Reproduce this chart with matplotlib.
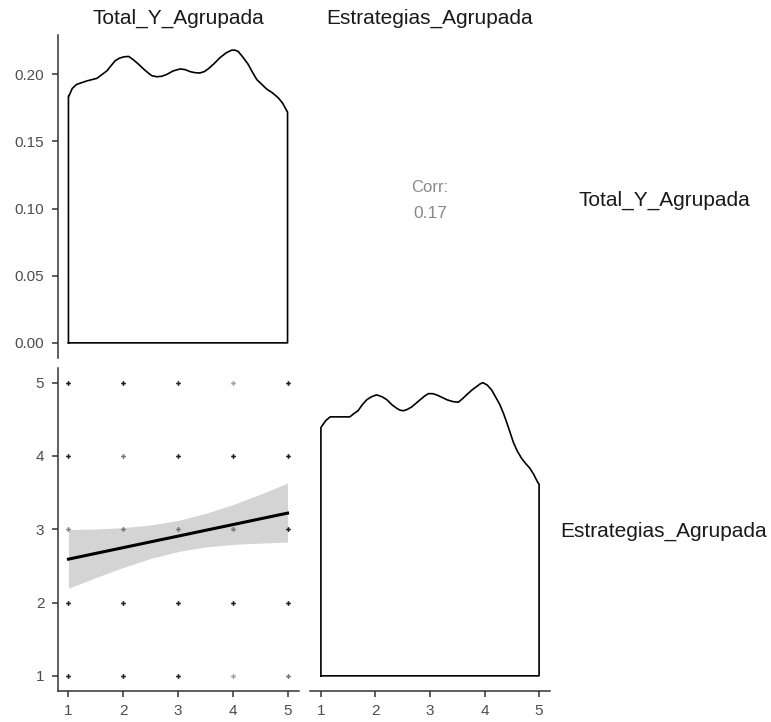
import matplotlib
matplotlib.use("Agg")
import matplotlib.pyplot as plt

plt.rcParams["font.family"] = ["Liberation Sans", "DejaVu Sans"]

# ---- data -------------------------------------------------------------
var_names = ["Total_Y_Agrupada", "Estrategias_Agrupada"]
levels = [1, 2, 3, 4, 5]

# kernel density of Total_Y_Agrupada
total_x = [1.00, 1.01, 1.07, 1.15, 1.33, 1.52, 1.70, 1.78, 1.85, 1.93, 2.01,
           2.10, 2.18, 2.28, 2.37, 2.45, 2.52, 2.61, 2.70, 2.80, 2.91,
           3.04, 3.13, 3.22, 3.31, 3.40, 3.48, 3.55, 3.66, 3.77, 3.88,
           3.98, 4.04, 4.10, 4.19, 4.28, 4.36, 4.44, 4.53, 4.62, 4.73,
           4.83, 4.91, 4.99, 5.00]
total_density = [0.184, 0.1840, 0.1895, 0.1925, 0.1950, 0.1970, 0.2025,
                 0.2065, 0.2100, 0.2120, 0.2130, 0.2133, 0.2110, 0.2075,
                 0.2040, 0.2012, 0.1990, 0.1982, 0.1985, 0.2000, 0.2025,
                 0.2040, 0.2035, 0.2020, 0.2012, 0.2010, 0.2020, 0.2040,
                 0.2080, 0.2125, 0.2160, 0.2180, 0.2180, 0.2170, 0.2125,
                 0.2075, 0.2015, 0.1960, 0.1925, 0.1890, 0.1860, 0.1825,
                 0.1785, 0.1725, 0.172]

# kernel density of Estrategias_Agrupada
estr_x = [1.00, 1.01, 1.09, 1.17, 1.35, 1.53, 1.60, 1.68, 1.76, 1.84, 1.93,
          2.02, 2.12, 2.21, 2.30, 2.39, 2.45, 2.51, 2.58, 2.66, 2.74, 2.82,
          2.90, 2.97, 3.05, 3.12, 3.22, 3.31, 3.42, 3.52, 3.60, 3.67, 3.77,
          3.86, 3.92, 3.97, 4.05, 4.13, 4.20, 4.28, 4.35, 4.41, 4.47, 4.53,
          4.60, 4.68, 4.75, 4.83, 4.90, 4.98, 5.00]
estr_density = [0.203, 0.204, 0.209, 0.212, 0.212, 0.212, 0.2145, 0.217,
                0.222, 0.226, 0.2285, 0.230, 0.2285, 0.226, 0.222, 0.219,
                0.2175, 0.217, 0.218, 0.220, 0.223, 0.226, 0.229, 0.231,
                0.231, 0.230, 0.228, 0.226, 0.2245, 0.224, 0.227, 0.230,
                0.234, 0.237, 0.239, 0.240, 0.238, 0.234, 0.2285, 0.222,
                0.2145, 0.207, 0.199, 0.191, 0.184, 0.178, 0.174, 0.170,
                0.165, 0.158, 0.157]

# grey level of each observed (Total, Estrategias) combination;
# rows follow Estrategias = 5..1, columns Total = 1..5
point_grey = [
    [0.10, 0.10, 0.15, 0.62, 0.12],
    [0.12, 0.45, 0.12, 0.10, 0.10],
    [0.50, 0.45, 0.45, 0.45, 0.12],
    [0.12, 0.12, 0.12, 0.10, 0.12],
    [0.12, 0.12, 0.12, 0.62, 0.45],
]

# linear fit of Estrategias on Total with 95% confidence band
fit_x = [1.0, 1.5, 2.0, 2.5, 3.0, 3.5, 4.0, 4.5, 5.0]
fit_y = [2.592, 2.671, 2.749, 2.828, 2.906, 2.985, 3.063, 3.142, 3.220]
ci_upper = [2.995, 3.004, 3.022, 3.058, 3.120, 3.215, 3.335, 3.478, 3.630]
ci_lower = [2.195, 2.340, 2.479, 2.601, 2.696, 2.758, 2.793, 2.811, 2.825]

corr_value = 0.17

# ---- layout -----------------------------------------------------------
W, H = 771, 722
fig = plt.figure(figsize=(W / 100, H / 100), dpi=100)
fig.patch.set_facecolor("white")


def panel(x0, y0, x1, y1):
    return fig.add_axes([x0 / W, 1 - y1 / H, (x1 - x0) / W, (y1 - y0) / H])


ax_tl = panel(57.5, 35.5, 298.5, 357.5)
ax_tr = panel(310, 35.5, 550, 357.5)
ax_bl = panel(57.5, 368, 298.5, 690.5)
ax_br = panel(310, 368, 550, 690.5)

axis_col = "#333333"
tick_col = "#4d4d4d"
xlim = (0.8, 5.2)

for ax in (ax_tl, ax_tr, ax_bl, ax_br):
    for s in ax.spines.values():
        s.set_visible(False)
        s.set_color(axis_col)
        s.set_linewidth(1.1)
    ax.tick_params(colors=axis_col, labelcolor=tick_col, labelsize=11,
                   length=4.5, width=1.1, pad=5)
    ax.set_xticks([])
    ax.set_yticks([])
    ax.set_xlim(*xlim)


def density_outline(ax, xs, ds):
    xs = list(xs)
    ds = list(ds)
    px = [xs[0]] + xs + [xs[-1], xs[0]]
    py = [0.0] + ds + [0.0, 0.0]
    ax.plot(px, py, color="black", lw=1.2, solid_joinstyle="round")


# top-left: density of Total_Y_Agrupada with y axis
density_outline(ax_tl, total_x, total_density)
ymax = max(total_density)
ax_tl.set_ylim(-0.05 * ymax, 1.05 * ymax)
ax_tl.spines["left"].set_visible(True)
ax_tl.set_yticks([0.00, 0.05, 0.10, 0.15, 0.20])
ax_tl.set_yticklabels(["0.00", "0.05", "0.10", "0.15", "0.20"])

# top-right: correlation text
ax_tr.set_ylim(0, 1)
ax_tr.text(3.0, 0.527, "Corr:", ha="center", va="center", fontsize=12,
           color="#8a8a8a")
ax_tr.text(3.0, 0.448, f"{corr_value:.2f}", ha="center", va="center",
           fontsize=12.5, color="#8a8a8a")

# bottom-left: scatter + linear fit
ax_bl.fill_between(fit_x, ci_lower, ci_upper, color="#d4d4d4", lw=0)
ax_bl.plot(fit_x, fit_y, color="black", lw=2.2)
est_levels = levels[::-1]
for i, yv in enumerate(est_levels):
    for j, xv in enumerate(levels):
        g = point_grey[i][j]
        ax_bl.plot(xv, yv, marker="P", ms=3.4, mew=0,
                   color=(g, g, g))
ax_bl.set_ylim(0.8, 5.2)
ax_bl.spines["left"].set_visible(True)
ax_bl.spines["bottom"].set_visible(True)
ax_bl.set_yticks(levels)
ax_bl.set_xticks(levels)

# bottom-right: density of Estrategias_Agrupada
density_outline(ax_br, estr_x, estr_density)
ymax2 = max(estr_density)
ax_br.set_ylim(-0.05 * ymax2, 1.05 * ymax2)
ax_br.spines["bottom"].set_visible(True)
ax_br.set_xticks(levels)

# strip labels
strip_kw = dict(fontsize=15, color="#1a1a1a", ha="center", va="center")
fig.text(178 / W, 1 - 18 / H, var_names[0], **strip_kw)
fig.text(430 / W, 1 - 18 / H, var_names[1], **strip_kw)
fig.text(664 / W, 1 - 200 / H, var_names[0], **strip_kw)
fig.text(664 / W, 1 - 531 / H, var_names[1], **strip_kw)

fig.savefig("out.png", dpi=100, facecolor="white")
